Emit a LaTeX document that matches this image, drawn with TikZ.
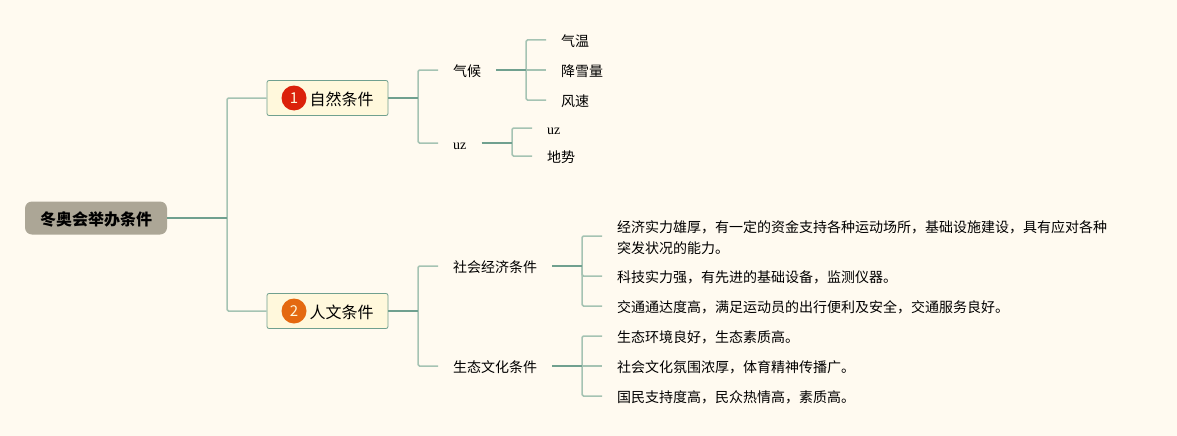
\documentclass[tikz,border=0pt]{standalone}
\usepackage{fontspec}
\usepackage{xcolor}
\usepackage{tikz}
\setmainfont{Liberation Serif}
\newfontfamily\cjk{Noto Sans CJK SC}
\definecolor{PaperBg}{RGB}{255,250,240}
\definecolor{BranchDark}{RGB}{112,160,143}
\definecolor{BranchLight}{RGB}{165,195,179}
\definecolor{RootFill}{RGB}{172,166,150}
\definecolor{TopicFill}{RGB}{255,248,220}
\definecolor{BadgeRed}{RGB}{219,33,10}
\definecolor{BadgeOrange}{RGB}{228,105,16}

\begin{document}
\begin{tikzpicture}[
        x=1pt,y=-1pt,
        root/.style={draw=none,fill=RootFill,rounded corners=7pt,
                     font=\cjk\fontsize{16}{20}\selectfont\bfseries,
                     text height=14pt,text depth=0pt,
                     minimum width=142pt,minimum height=33pt,inner sep=0pt},
        topic/.style={draw=BranchDark,fill=TopicFill,rounded corners=2pt,
                      font=\cjk\fontsize{16}{20}\selectfont,line width=0.8pt,
                      text height=15.5pt,text depth=0pt,
                      minimum width=121pt,minimum height=35pt,inner sep=0pt},
        badge/.style={circle,draw=none,text=TopicFill,minimum size=25pt,inner sep=0pt,
                      font=\cjk\fontsize{15}{18}\selectfont},
        sub/.style={anchor=west,inner xsep=15pt,inner ysep=2pt,
                    font=\cjk\fontsize{14}{21}\selectfont},
        line/.style={sub,text height=12.5pt,text depth=0pt},
        latin/.style={anchor=west,inner xsep=15pt,inner ysep=2pt,
                      text height=12pt,text depth=0pt,
                      font=\fontsize{14}{21}\selectfont},
        hub/.style={draw=BranchDark,line width=1.5pt},
        arr/.style={draw=BranchLight,line width=1.5pt,rounded corners=1.5pt}
      ]
        \useasboundingbox[fill=PaperBg] (0,0) rectangle (1177,436);
        \node[root] (r) at (96,218) {冬奥会举办条件};
        \node[topic] (n1) at (327.5,98) {\hspace{28pt}自然条件};
        \node[topic] (n2) at (327.5,311) {\hspace{28pt}人文条件};
        \node[badge,fill=BadgeRed] (b1) at (294,98) {1};
        \node[badge,fill=BadgeOrange] (b2) at (294,311) {2};
        \node[line] (qh) at (438,70) {气候};
        \node[latin] (uz) at (438,143) {uz};
        \node[line] (sj) at (438,266) {社会经济条件};
        \node[line] (st) at (438,366) {生态文化条件};
        \node[line] (qw) at (546,40) {气温};
        \node[line] (jx) at (546,70) {降雪量};
        \node[line] (fs) at (546,100) {风速};
        \node[latin] (uz2) at (532,128) {uz};
        \node[line] (ds) at (532,156) {地势};
        \node[sub,align=left] (s1) at (602,236) {\rule{0pt}{15.5pt}经济实力雄厚，有一定的资金支持各种运动场所，基础设施建设，具有应对各种\\突发状况的能力。};
        \node[line] (s2) at (602,276) {科技实力强，有先进的基础设备，监测仪器。};
        \node[line] (s3) at (602,306) {交通通达度高，满足运动员的出行便利及安全，交通服务良好。};
        \node[line] (c1) at (602,336) {生态环境良好，生态素质高。};
        \node[line] (c2) at (602,366) {社会文化氛围浓厚，体育精神传播广。};
        \node[line] (c3) at (602,396) {国民支持度高，民众热情高，素质高。};
        \coordinate (j0) at (227,218);
        \coordinate (j1) at (418,98);
        \coordinate (j2) at (418,311);
        \coordinate (j3) at (526,70);
        \coordinate (j4) at (512,143);
        \coordinate (j5) at (582,266);
        \coordinate (j6) at (582,366);
        \draw[arr] (j0) |- (n1.west);
        \draw[arr] (j0) |- (n2.west);
        \draw[arr] (j1) |- (qh.west);
        \draw[arr] (j1) |- (uz.west);
        \draw[arr] (j2) |- (sj.west);
        \draw[arr] (j2) |- (st.west);
        \draw[arr] (j3) |- (qw.west);
        \draw[arr] (j3) -- (jx.west);
        \draw[arr] (j3) |- (fs.west);
        \draw[arr] (j4) |- (uz2.west);
        \draw[arr] (j4) |- (ds.west);
        \draw[arr] (j5) |- (s1.west);
        \draw[arr] (j5) |- (s2.west);
        \draw[arr] (j5) |- (s3.west);
        \draw[arr] (j6) |- (c1.west);
        \draw[arr] (j6) -- (c2.west);
        \draw[arr] (j6) |- (c3.west);
        \draw[hub] (r.east) -- (j0);
        \draw[hub] (n1.east) -- (j1);
        \draw[hub] (n2.east) -- (j2);
        \draw[hub] (qh.east) -- (j3);
        \draw[hub] (uz.east) -- (j4);
        \draw[hub] (sj.east) -- (j5);
        \draw[hub] (st.east) -- (j6);
      \end{tikzpicture}
\end{document}
